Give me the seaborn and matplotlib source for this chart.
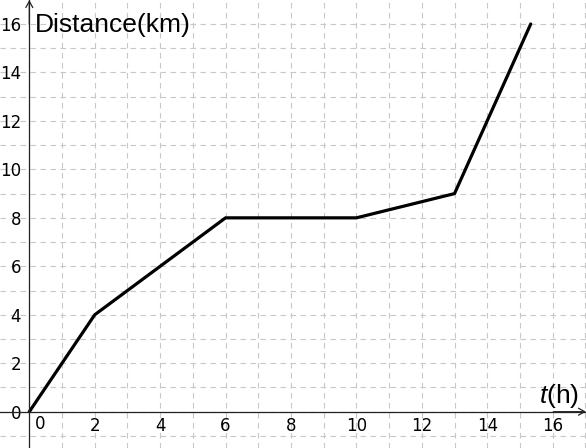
import seaborn as sns
import matplotlib.pyplot as plt
import pandas as pd

# time (h) vs distance (km)
t_h = [0, 2, 6, 10, 13, 15.33]
dist_km = [0, 4, 8, 8, 9, 16]
x_ticks = [2, 4, 6, 8, 10, 12, 14, 16]
y_ticks = [0, 2, 4, 6, 8, 10, 12, 14, 16]

df = pd.DataFrame({'t': t_h, 'd': dist_km})

sns.set_style('white')
plt.rcParams['font.family'] = ['DejaVu Sans']
plt.rcParams['text.color'] = 'black'
plt.rcParams['mathtext.fontset'] = 'custom'
plt.rcParams['mathtext.it'] = 'Liberation Sans:italic'

fig = plt.figure(figsize=(5.86, 4.48), dpi=100)
ax = fig.add_axes([0, 0, 1, 1])

x_lo, x_hi = -0.896, 17.02
y_lo, y_hi = -1.498, 16.99

# grid every unit
ax.set_xticks(range(-1, 18), minor=True)
ax.set_yticks(range(-1, 18), minor=True)
ax.grid(which='both', color='#c8c8c8', lw=0.8, ls=(0, (5, 4)))
ax.set_axisbelow(True)

sns.lineplot(data=df, x='t', y='d', sort=False, color='black', lw=2.3, ax=ax)

ax.set_xlim(x_lo, x_hi)
ax.set_ylim(y_lo, y_hi)
ax.set_xlabel('')
ax.set_ylabel('')

for s in ['top', 'right']:
    ax.spines[s].set_visible(False)
ax.spines['left'].set_position(('data', 0))
ax.spines['bottom'].set_position(('data', 0))
for s in ['left', 'bottom']:
    ax.spines[s].set_linewidth(0.9)
    ax.spines[s].set_color('#222222')

ax.set_xticks(x_ticks)
ax.set_xticklabels([str(v) for v in x_ticks])
ax.set_yticks(y_ticks)
ax.set_yticklabels([str(v) for v in y_ticks])
ax.tick_params(which='major', direction='inout', length=4, width=0.8,
               labelsize=12, colors='black')
ax.tick_params(axis='x', pad=2)
ax.tick_params(axis='y', pad=4)
ax.tick_params(which='minor', length=0)
ax.text(11 / 32.7, -0.15, '0', fontsize=12, ha='center', va='top',
        color='black')

# axis arrows
ax.annotate('', xy=(0, y_hi), xytext=(0, y_hi - 1),
            arrowprops=dict(arrowstyle='->,head_length=0.45,head_width=0.25',
                            lw=0.9, color='#222222', shrinkA=0, shrinkB=0))
ax.annotate('', xy=(x_hi, 0), xytext=(x_hi - 1, 0),
            arrowprops=dict(arrowstyle='->,head_length=0.45,head_width=0.25',
                            lw=0.9, color='#222222', shrinkA=0, shrinkB=0))

ax.text(35 / 586, 1 - 25 / 448, 'Distance(km)', transform=ax.transAxes,
        fontsize=19, family='Liberation Sans', ha='left', va='center',
        color='black')
ax.text(539 / 586, 1 - 396 / 448, r'$t$(h)', transform=ax.transAxes,
        fontsize=19, family='Liberation Sans', ha='left', va='center',
        color='black')

fig.savefig('out.png', dpi=100)
